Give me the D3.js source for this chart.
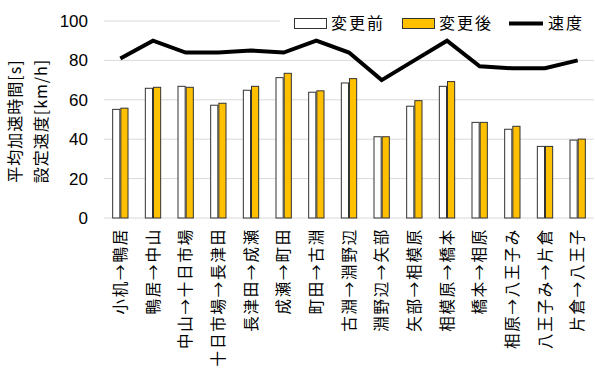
<!DOCTYPE html>
<html>
<head>
<meta charset="utf-8">
<script src="https://cdn.jsdelivr.net/npm/d3@7"></script>
<style>
  body { margin: 0; background: #fff; }
  text { font-family: "Noto Sans CJK JP", "Liberation Sans", sans-serif; fill: #000; }
</style>
</head>
<body>
<div id="chart-area"></div>
<script>
// sections
var sections = ["小机→鴨居", "鴨居→中山", "中山→十日市場", "十日市場→長津田", "長津田→成瀬",
  "成瀬→町田", "町田→古淵", "古淵→淵野辺", "淵野辺→矢部", "矢部→相模原",
  "相模原→橋本", "橋本→相原", "相原→八王子み", "八王子み→片倉", "片倉→八王子"];
var before = [55.4, 66.1, 67.1, 57.5, 65.1, 71.5, 64.1, 68.8, 41.5, 57.0, 67.1, 48.8, 45.3, 36.6, 39.8];
var after  = [56.0, 66.6, 66.6, 58.5, 67.1, 73.7, 64.8, 71.0, 41.5, 59.8, 69.5, 48.8, 46.8, 36.6, 40.3];
var speed  = [81, 90, 84, 84, 85, 84, 90, 84, 70, 80, 90, 77, 76, 76, 80];
var yTicks = [0, 20, 40, 60, 80, 100];
var seriesNames = ["変更前", "変更後", "速度"];

var width = 595, height = 368;
var plot = {left: 104, right: 594, top: 21, bottom: 218};

var svg = d3.select("#chart-area").append("svg")
    .attr("width", width)
    .attr("height", height);

var x = d3.scaleBand().domain(sections).range([plot.left, plot.right])
    .paddingInner(0.5).paddingOuter(0.25);
var xs = d3.scaleBand().domain([0, 1]).range([0, x.bandwidth()]);
var y = d3.scaleLinear().domain([0, 100]).range([plot.bottom, plot.top]);

// grid
svg.append("g").selectAll("line")
    .data(yTicks)
    .enter().append("line")
        .attr("x1", plot.left).attr("x2", plot.right)
        .attr("y1", d => y(d)).attr("y2", d => y(d))
        .attr("stroke", "#d9d9d9").attr("stroke-width", 1);

// y axis labels
var leftAxis = d3.axisLeft(y).tickValues(yTicks).tickSize(0).tickPadding(0);
var ya = svg.append("g")
    .attr("transform", "translate(88,0)")
    .call(leftAxis);
ya.select(".domain").remove();
ya.selectAll("text").attr("font-size", "17px").attr("fill", "#000")
    .style("font-family", "'Liberation Sans', sans-serif");

// bars
var fills = ["#ffffff", "#ffc000"];
[before, after].forEach((vals, s) => {
    svg.append("g").selectAll("rect")
        .data(vals)
        .enter().append("rect")
            .attr("x", (d, i) => x(sections[i]) + xs(s) + 0.5)
            .attr("y", d => y(d) + 0.5)
            .attr("width", xs.bandwidth() - 1)
            .attr("height", d => y(0) - y(d) - 0.5)
            .attr("fill", fills[s])
            .attr("stroke", "#333")
            .attr("stroke-width", 1);
});

// speed line
var line = d3.line()
    .x((d, i) => x(sections[i]) + x.bandwidth() / 2)
    .y(d => y(d));
svg.append("path")
    .datum(speed)
    .attr("d", line)
    .attr("fill", "none")
    .attr("stroke", "#000")
    .attr("stroke-width", 4);

// x labels
svg.append("g").selectAll("text")
    .data(sections)
    .enter().append("text")
        .attr("transform", d => "translate(" + (x(d) + x.bandwidth() / 2) + ",228) rotate(-90)")
        .attr("dy", "0.36em")
        .attr("text-anchor", "end")
        .attr("font-size", "15.5px")
        .attr("letter-spacing", "1.8px")
        .text(d => d);

// y title
var yTitle = ["平均加速時間[s]", "設定速度[km/h]"];
svg.append("g").selectAll("text")
    .data(yTitle)
    .enter().append("text")
        .attr("transform", (d, i) => "translate(" + (15 + i * 26) + ",121) rotate(-90)")
        .attr("dy", "0.36em")
        .attr("text-anchor", "middle")
        .attr("font-size", "16px")
        .attr("letter-spacing", "1px")
        .text(d => d);

// legend
var legend = svg.append("g");
legend.append("rect")
    .attr("x", 280).attr("y", 8).attr("width", 315).attr("height", 28)
    .attr("fill", "#fff");
var legX = [294, 402, 509];
seriesNames.forEach((name, i) => {
    var row = legend.append("g").attr("transform", "translate(" + legX[i] + ",0)");
    if (i < 2) {
        row.append("rect")
            .attr("x", 0.5).attr("y", 18.5).attr("width", 32).attr("height", 10)
            .attr("fill", fills[i]).attr("stroke", "#333");
    } else {
        row.append("line")
            .attr("x1", 0).attr("x2", 34).attr("y1", 23.5).attr("y2", 23.5)
            .attr("stroke", "#000").attr("stroke-width", 4);
    }
    row.append("text")
        .attr("x", i < 2 ? 37 : 39)
        .attr("y", 23.5)
        .attr("dy", "0.36em")
        .attr("font-size", "16px")
        .attr("letter-spacing", "2px")
        .text(name);
});
</script>
</body>
</html>
